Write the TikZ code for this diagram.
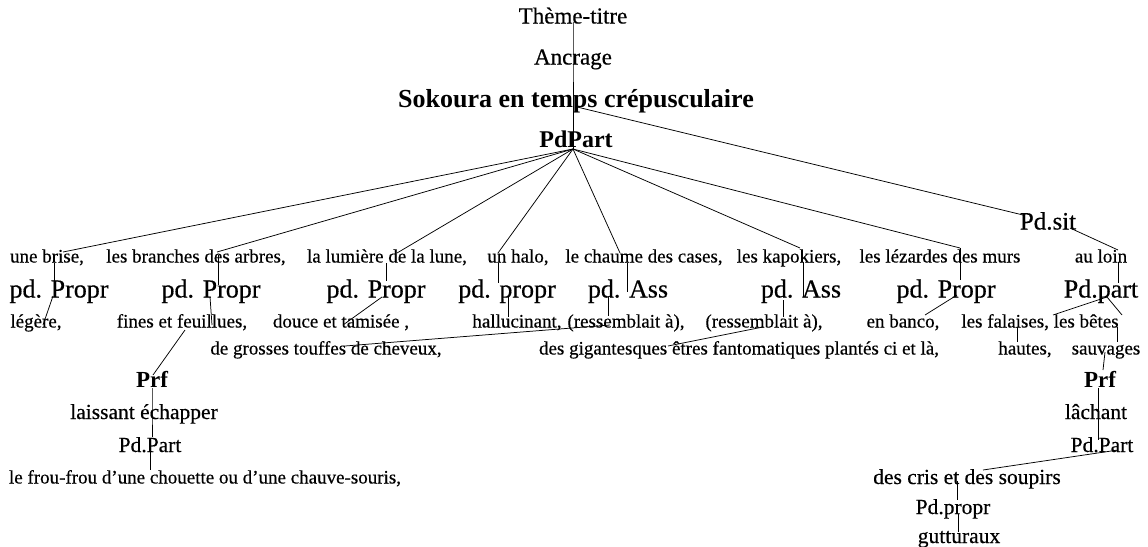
\documentclass[tikz,border=0pt]{standalone}
\usepackage{fontspec}
\setmainfont{Liberation Serif}[UprightFeatures={FakeBold=0.4}]
\begin{document}
\begin{tikzpicture}[x=1pt,y=-1pt,
  lbl/.style={inner sep=0pt, anchor=center},
  sA/.style={lbl, font=\fontsize{19}{21}\selectfont, text height=14pt, text depth=3pt},
  sB/.style={lbl, font=\fontsize{21.5}{23}\selectfont, text height=15.5pt, text depth=3.5pt},
  sC/.style={lbl, font=\fontsize{23}{25}\selectfont, text height=17pt, text depth=4pt},
  sD/.style={lbl, font=\fontsize{26}{28}\selectfont, text height=19pt, text depth=4pt},
  sCb/.style={sC, font=\fontsize{23}{25}\selectfont\bfseries},
  sDb/.style={sD, font=\fontsize{26}{28}\selectfont\bfseries},
  sPd/.style={lbl, font=\fontsize{24}{26}\selectfont\bfseries, text height=17.5pt, text depth=4pt},
  ln/.style={draw=black, line width=0.75pt}]
\useasboundingbox[fill=white] (0,0) rectangle (1148,546);

% top chain
\node[sC] (theme) at (573,17) {Thème-titre};
\node[sC] (anc) at (573,58) {Ancrage};
\node[sDb] (sok) at (576,100) {Sokoura en temps crépusculaire};
\node[sPd] (pdp) at (576,141) {PdPart};
\node[sD, font=\fontsize{25}{27}\selectfont] (pdsit) at (1048,222) {Pd.sit};

% row 2
\node[sA] (brise) at (47,257) {une brise,};
\node[sA] (branches) at (196,257) {les branches des arbres,};
\node[sA] (lumiere) at (387,257) {la lumière de la lune,};
\node[sA] (halo) at (518,257) {un halo,};
\node[sA] (chaume) at (644,257) {le chaume des cases,};
\node[sA] (kapok) at (789,257) {les kapokiers,};
\node[sA] (lezardes) at (940,257) {les lézardes des murs};
\node[sA] (loin) at (1101,257) {au loin};

% row 3
\node[sD] (pp1) at (59,290) {pd. Propr};
\node[sD] (pp2) at (211,290) {pd. Propr};
\node[sD] (pp3) at (376,290) {pd. Propr};
\node[sD] (pp4) at (507,290) {pd. propr};
\node[sD] (pa1) at (628,290) {pd. Ass};
\node[sD] (pa2) at (801,290) {pd. Ass};
\node[sD] (pp5) at (946,290) {pd. Propr};
\node[sD] (pdpart) at (1101,290) {Pd.part};

% row 4
\node[sA] (legere) at (36,322) {légère,};
\node[sA] (fines) at (182,322) {fines et feuillues,};
\node[sA] (douce) at (341,322) {douce et tamisée ,};
\node[sA] (halluc) at (517,322) {hallucinant,};
\node[sA] (ress1) at (626,322) {(ressemblait à),};
\node[sA] (ress2) at (764,322) {(ressemblait à),};
\node[sA] (banco) at (903,322) {en banco,};
\node[sA] (falaises) at (1040,322) {les falaises, les bêtes};

% row 5
\node[sA] (grosses) at (326,349) {de grosses touffes de cheveux,};
\node[sA] (gigant) at (739,349) {des gigantesques êtres fantomatiques plantés ci et là,};
\node[sA] (hautes) at (1025,349) {hautes,};
\node[sA] (sauvages) at (1106,349) {sauvages};

% left lower chain
\node[sCb] (prfL) at (152,381) {Prf};
\node[sB] (laiss) at (144,413) {laissant échapper};
\node[sB] (pdpartL) at (150,446) {Pd.Part};
\node[sA] (frou) at (205,478) {le frou-frou d’une chouette ou d’une chauve-souris,};

% right lower chain
\node[sCb] (prfR) at (1100,381) {Prf};
\node[sB] (lach) at (1096,413) {lâchant};
\node[sB] (pdpartR) at (1102,446) {Pd.Part};
\node[sB] (cris) at (967,478) {des cris et des soupirs};
\node[sB] (pdpropr) at (953,508) {Pd.propr};
\node[sB] (gutt) at (959,537) {gutturaux};

% connectors: top
\draw[ln] ([shift={(0,5)}]theme.center) -- (anc.center) -- ([shift={(-3,7)}]sok.center);
\draw[ln] ([shift={(-3,7)}]sok.center) -- ([shift={(-3,8)}]pdp.center);
\draw[ln] ([shift={(1,7)}]sok.center) -- ([shift={(-25,-7)}]pdsit.center);

% fan from PdPart
\foreach \n/\dx/\dy in {brise/16/-5, branches/21/-5, lumiere/10/-4, halo/-20/-4,
                        chaume/-24/-4, kapok/11/-9, lezardes/20/-9}
  \draw[ln] ([shift={(-3,8)}]pdp.center) -- ([shift={(\dx,\dy)}]\n.center);

% row 2 -> row 3
\draw[ln] ([shift={(7,6)}]brise.center) -- ([shift={(-5,-7)}]pp1.center);
\draw[ln] ([shift={(22,-2)}]branches.center) -- ([shift={(7,-5)}]pp2.center);
\draw[ln] ([shift={(-1,6)}]lumiere.center) -- ([shift={(10,-9)}]pp3.center);
\draw[ln] ([shift={(-20,6)}]halo.center) -- ([shift={(-9,-7)}]pp4.center);
\draw[ln] ([shift={(-17,6)}]chaume.center) -- ([shift={(-1,2)}]pa1.center);
\draw[ln] ([shift={(14,5)}]kapok.center) -- ([shift={(2,7)}]pa2.center);
\draw[ln] ([shift={(20,-9)}]lezardes.center) -- ([shift={(14,-10)}]pp5.center);
\draw[ln] ([shift={(22,6)}]pdsit.center) -- ([shift={(17,-7)}]loin.center);
\draw[ln] ([shift={(17,5)}]loin.center) -- ([shift={(17,-7)}]pdpart.center);

% row 3 -> row 4
\draw[ln] ([shift={(-6,6)}]pp1.center) -- ([shift={(7,3)}]legere.center);
\draw[ln] ([shift={(-1,7)}]pp2.center) -- ([shift={(30,3)}]fines.center);
\draw[ln] ([shift={(6,7)}]pp3.center) -- ([shift={(2,3)}]douce.center);
\draw[ln] ([shift={(1,7)}]pp4.center) -- ([shift={(-9,-5)}]halluc.center);
\draw[ln] ([shift={(-20,7)}]pa1.center) -- ([shift={(-18,-6)}]ress1.center);
\draw[ln] ([shift={(-16,3)}]ress1.center) -- ([shift={(19,-3)}]grosses.center);
\draw[ln] ([shift={(-18,10)}]pa2.center) -- ([shift={(19,-5)}]ress2.center);
\draw[ln] ([shift={(-1,5)}]ress2.center) -- ([shift={(-71,-3)}]gigant.center);
\draw[ln] ([shift={(11,5)}]pp5.center) -- ([shift={(22,-7)}]banco.center);
\draw[ln] ([shift={(6,7)}]pdpart.center) -- ([shift={(13,-7)}]falaises.center);
\draw[ln] ([shift={(6,7)}]pdpart.center) -- ([shift={(82,-7)}]falaises.center);
\draw[ln] ([shift={(-23,5)}]falaises.center) -- ([shift={(-8,-7)}]hautes.center);
\draw[ln] ([shift={(77,5)}]falaises.center) -- ([shift={(11,-7)}]sauvages.center);
\draw[ln] ([shift={(-1,3)}]sauvages.center) -- ([shift={(3,-11)}]prfR.center);

% left lower chain
\draw[ln] ([shift={(3,8)}]fines.center) -- ([shift={(1,-6)}]prfL.center);
\draw[ln] ([shift={(0,7)}]prfL.center) -- ([shift={(8,0)}]laiss.center) -- ([shift={(2,-9)}]pdpartL.center);
\draw[ln] ([shift={(0,6)}]pdpartL.center) -- ([shift={(-55,-8)}]frou.center);

% right lower chain
\draw[ln] ([shift={(-2,7)}]prfR.center) -- ([shift={(2,0)}]lach.center) -- ([shift={(-4,-6)}]pdpartR.center);
\draw[ln] ([shift={(16,4)}]pdpartR.center) -- ([shift={(16,-8)}]cris.center);
\draw[ln] ([shift={(-10,3)}]cris.center) -- ([shift={(4,-8)}]pdpropr.center);
\draw[ln] ([shift={(5,6)}]pdpropr.center) -- ([shift={(-1,-5)}]gutt.center);
\end{tikzpicture}
\end{document}
